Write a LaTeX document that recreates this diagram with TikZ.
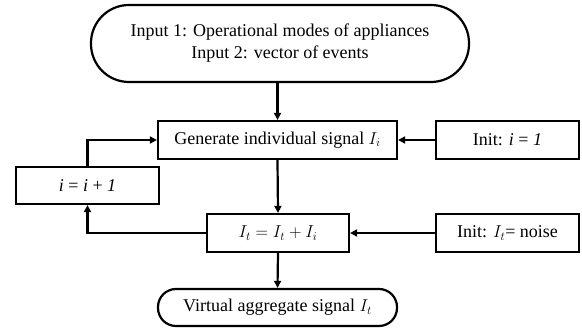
\documentclass[tikz,border=0pt]{standalone}
\usepackage{fontspec}
\setmainfont{Liberation Serif}[ItalicFont={Liberation Serif Italic}]
\usetikzlibrary{arrows.meta}
\begin{document}
\begin{tikzpicture}[x=1pt,y=-1pt,
  every node/.style={font=\fontsize{18}{22}\selectfont, align=center, inner sep=0pt, line width=2.2pt},
  procbox/.style={draw, rectangle, minimum height=38pt},
  termbox/.style={draw, rectangle},
  arr/.style={line width=2.2pt, -{Triangle[length=7pt,width=7pt]}},
  ln/.style={line width=2.2pt}]
\useasboundingbox (0,0) rectangle (582,328);

% terminators
\node[termbox, rounded corners=38pt, minimum width=378pt, minimum height=77pt] (inp) at (280,43.5)
  {Input 1: Operational modes of appliances\\Input 2: vector of events};
\node[termbox, rounded corners=18pt, minimum width=239pt, minimum height=37pt] (out) at (277.5,307.5)
  {Virtual aggregate signal $I_t$};

% process boxes
\node[procbox, minimum width=239pt] (gen) at (277.5,140) {Generate individual signal $I_i$};
\node[procbox, minimum width=143pt] (ini) at (507.5,140) {Init: \textit{i} = \textit{1}};
\node[procbox, minimum width=143pt, minimum height=37pt] (inc) at (87.5,185.5) {\textit{i} = \textit{i} + \textit{1}};
\node[procbox, minimum width=142pt] (acc) at (278,233) {$I_t = I_t + I_i$};
\node[procbox, minimum width=143pt] (int) at (507.5,233) {Init: $I_t$= noise};

% connectors
\draw[arr] (gen.north |- inp.south) -- (gen.north);
\draw[arr] (ini.west) -- (gen.east);
\draw[arr] (gen.south) -- (acc.north);
\draw[arr] (int.west) -- (acc.east);
\draw[arr] (acc.south) -- (out.north);
\draw[arr] (acc.west) -| (inc.south);
\draw[arr] (inc.north) |- (gen.west);
\end{tikzpicture}
\end{document}
